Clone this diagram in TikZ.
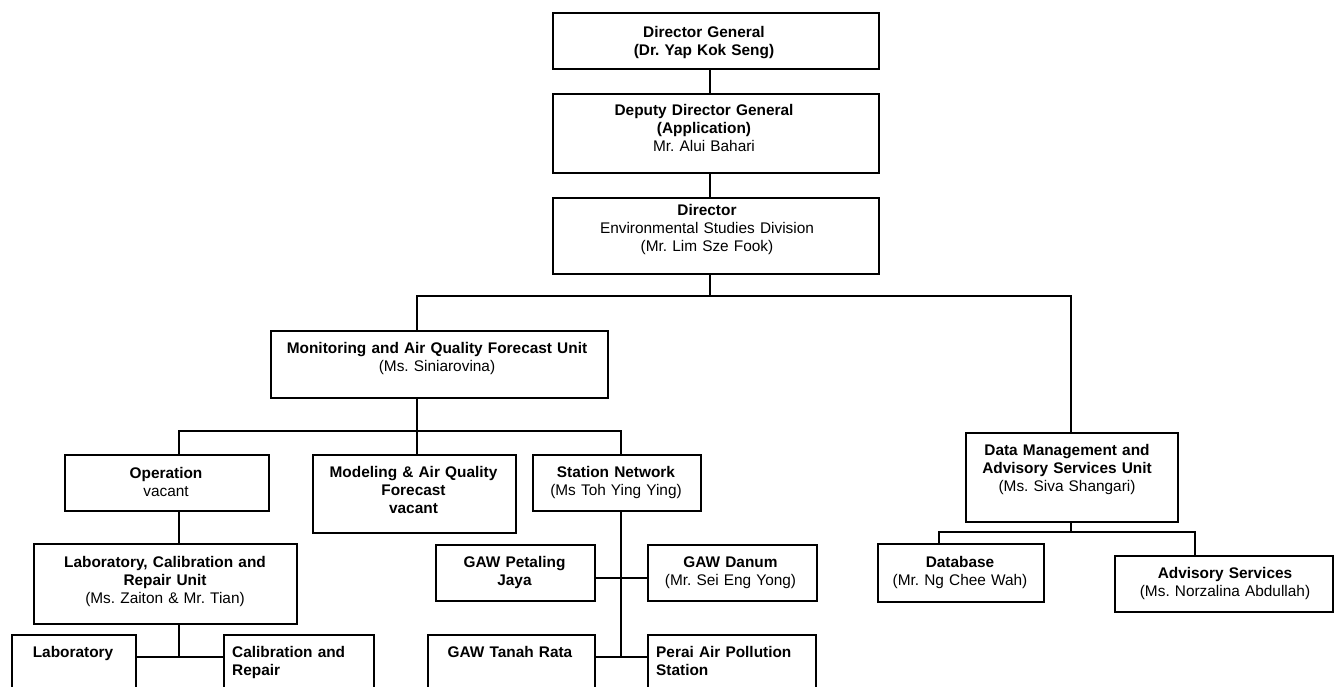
\documentclass[tikz,border=0pt]{standalone}
\usepackage{fontspec}
\setmainfont{Liberation Sans}
\frenchspacing
\begin{document}
\begin{tikzpicture}[x=1pt,y=-1pt,
  box/.style={draw, line width=1.6pt, anchor=north west, inner sep=0pt},
  conn/.style={line width=1.6pt},
  txt/.style={inner sep=0pt, anchor=base, align=center, font=\fontsize{15.4}{18.3}\selectfont},
  ltxt/.style={inner sep=0pt, anchor=base west, align=left, font=\fontsize{15.4}{18.3}\selectfont}]
\useasboundingbox (0,0) rectangle (1338,686);
\clip (0,0) rectangle (1338,686);
% boxes
\node[box, minimum width=326pt, minimum height=56pt] (dg) at (552,12) {};
\node[box, minimum width=326pt, minimum height=79pt] (ddg) at (552,93) {};
\node[box, minimum width=326pt, minimum height=76pt] (dir) at (552,197) {};
\node[box, minimum width=337pt, minimum height=67pt] (mon) at (270,330) {};
\node[box, minimum width=204pt, minimum height=56pt] (op) at (64,454) {};
\node[box, minimum width=203pt, minimum height=78pt] (mod) at (312,454) {};
\node[box, minimum width=168pt, minimum height=56pt] (sn) at (532,454) {};
\node[box, minimum width=263pt, minimum height=80pt] (lab) at (33,543) {};
\node[box, minimum width=124pt, minimum height=70pt] (labo) at (11,634) {};
\node[box, minimum width=150pt, minimum height=70pt] (cal) at (223,634) {};
\node[box, minimum width=159pt, minimum height=56pt] (pj) at (435,544) {};
\node[box, minimum width=169pt, minimum height=56pt] (danum) at (647,544) {};
\node[box, minimum width=167pt, minimum height=70pt] (tr) at (427,634) {};
\node[box, minimum width=168pt, minimum height=70pt] (perai) at (647,634) {};
\node[box, minimum width=212pt, minimum height=89pt] (dm) at (965,432) {};
\node[box, minimum width=166pt, minimum height=58pt] (db) at (877,543) {};
\node[box, minimum width=218pt, minimum height=56pt] (adv) at (1114,555) {};
% texts
\node[txt, text width=320pt] (dg-t) at (704,37) {\textbf{Director General}\\\textbf{(Dr. Yap Kok Seng)}};
\node[txt, text width=320pt] (ddg-t) at (704,115) {\textbf{Deputy Director General}\\\textbf{(Application)}\\Mr. Alui Bahari};
\node[txt, text width=320pt] (dir-t) at (707,215) {\textbf{Director}\\Environmental Studies Division\\(Mr. Lim Sze Fook)};
\node[txt, text width=330pt] (mon-t) at (437,353) {\textbf{Monitoring and Air Quality Forecast Unit}\\(Ms. Siniarovina)};
\node[txt, text width=200pt] (op-t) at (166,478) {\textbf{Operation}\\vacant};
\node[txt, text width=200pt] (mod-t) at (413.5,477) {\textbf{Modeling \& Air Quality}\\\textbf{Forecast}\\\textbf{vacant}};
\node[txt, text width=165pt] (sn-t) at (616,477) {\textbf{Station Network}\\(Ms Toh Ying Ying)};
\node[txt, text width=260pt] (lab-t) at (165,567) {\textbf{Laboratory, Calibration and}\\\textbf{Repair Unit}\\(Ms. Zaiton \& Mr. Tian)};
\node[txt, text width=120pt] (labo-t) at (73,657) {\textbf{Laboratory}};
\node[ltxt, text width=140pt] (cal-t) at (232,657) {\textbf{Calibration and}\\\textbf{Repair}};
\node[txt, text width=155pt] (pj-t) at (514.5,567) {\textbf{GAW Petaling}\\\textbf{Jaya}};
\node[txt, text width=165pt] (danum-t) at (730.5,567) {\textbf{GAW Danum}\\(Mr. Sei Eng Yong)};
\node[txt, text width=165pt] (tr-t) at (510,657) {\textbf{GAW Tanah Rata}};
\node[ltxt, text width=160pt] (perai-t) at (656,657) {\textbf{Perai Air Pollution}\\\textbf{Station}};
\node[txt, text width=210pt] (dm-t) at (1067,455) {\textbf{Data Management and}\\\textbf{Advisory Services Unit}\\(Ms. Siva Shangari)};
\node[txt, text width=165pt] (db-t) at (960,567) {\textbf{Database}\\(Mr. Ng Chee Wah)};
\node[txt, text width=215pt] (adv-t) at (1225,578) {\textbf{Advisory Services}\\(Ms. Norzalina Abdullah)};
% junction coordinates
\coordinate (spine) at (710,296);
\coordinate (bl) at (417,296);
\coordinate (br) at (1071,296);
\coordinate (m1) at (417,431);
\coordinate (opx) at (179,431);
\coordinate (snx) at (621,431);
\coordinate (lj) at (179,657);
\coordinate (sj1) at (621,578);
\coordinate (sj2) at (621,657);
\coordinate (dj) at (1071,532);
\coordinate (dbx) at (939,532);
\coordinate (advx) at (1195,532);
% connectors
\draw[conn] (dg.south -| spine) -- (ddg.north -| spine);
\draw[conn] (ddg.south -| spine) -- (dir.north -| spine);
\draw[conn] (dir.south -| spine) -- (spine);
\draw[conn] (mon.north -| bl) -- (bl) -- (br) -- (dm.north -| br);
\draw[conn] (mon.south -| m1) -- (mod.north -| m1);
\draw[conn] (op.north -| opx) -- (opx) -- (snx) -- (sn.north -| snx);
\draw[conn] (op.south -| opx) -- (lab.north -| opx);
\draw[conn] (lab.south -| lj) -- (lj);
\draw[conn] (labo.east |- lj) -- (cal.west |- lj);
\draw[conn] (sn.south -| sj2) -- (sj2);
\draw[conn] (pj.east |- sj1) -- (danum.west |- sj1);
\draw[conn] (tr.east |- sj2) -- (perai.west |- sj2);
\draw[conn] (dm.south -| dj) -- (dj);
\draw[conn] (db.north -| dbx) -- (dbx) -- (advx) -- (adv.north -| advx);
\end{tikzpicture}
\end{document}
